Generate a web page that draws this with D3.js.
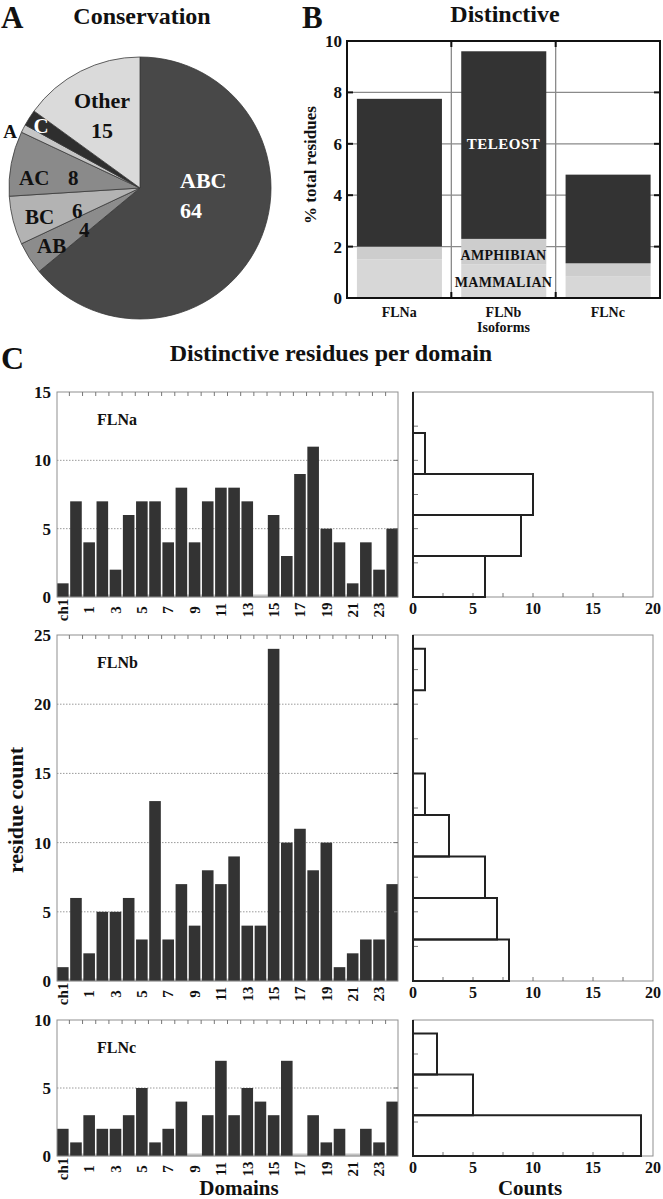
<!DOCTYPE html>
<html><head><meta charset="utf-8">
<script src="https://cdn.jsdelivr.net/npm/d3@7"></script>
<style>
body{margin:0;background:#fff}
svg{display:block}
text{font-family:"Liberation Serif","Times New Roman",serif;font-weight:bold;fill:#111}
</style>
</head><body>
<svg id="chart" width="663" height="1199"></svg>
<script>
// ---------- Panel A: Conservation (pie) ----------
const pieLabels = ["ABC", "AB", "BC", "AC", "A", "C", "Other"];
const pieValues = [64, 4, 6, 8, 1, 2, 15];
const pieColors = ["#484848", "#8c8c8c", "#b3b3b3", "#8a8a8a", "#c6c6c6", "#2e2e2e", "#dadada"];

// ---------- Panel B: Distinctive (stacked bars) ----------
const isoforms = ["FLNa", "FLNb", "FLNc"];
const mammalian = [1.5, 1.3, 0.85];
const amphibian = [0.5, 1.0, 0.5];
const teleost = [5.75, 7.3, 3.45];
const bTicks = [0, 2, 4, 6, 8, 10];

// ---------- Panel C: Distinctive residues per domain ----------
const domains = ["ch1", "ch2", "1", "2", "3", "4", "5", "6", "7", "8", "9", "10", "11", "12",
  "13", "14", "15", "16", "17", "18", "19", "20", "21", "22", "23", "24"];
const flnaCounts = [1, 7, 4, 7, 2, 6, 7, 7, 4, 8, 4, 7, 8, 8, 7, 0, 6, 3, 9, 11, 5, 4, 1, 4, 2, 5];
const flnbCounts = [1, 6, 2, 5, 5, 6, 3, 13, 3, 7, 4, 8, 7, 9, 4, 4, 24, 10, 11, 8, 10, 1, 2, 3, 3, 7];
const flncCounts = [2, 1, 3, 2, 2, 3, 5, 1, 2, 4, 0, 3, 7, 3, 5, 4, 3, 7, 0, 3, 1, 2, 0, 2, 1, 4];
// histograms of the counts (bins of 3 residues, from 0 upward)
const histBinWidth = 3;
const flnaHist = [6, 9, 10, 1, 0];
const flnbHist = [8, 7, 6, 3, 1, 0, 0, 1, 0];
const flncHist = [19, 5, 2, 0];
const flnaTicks = [0, 5, 10, 15];
const flnbTicks = [0, 5, 10, 15, 20, 25];
const flncTicks = [0, 5, 10];
const histTicks = [0, 5, 10, 15, 20];

const svg = d3.select("#chart");

function txt(g, x, y, s, size, opts = {}) {
  const t = g.append("text").attr("x", x).attr("y", y).text(s)
    .style("font-size", size + "px")
    .attr("text-anchor", opts.anchor || "start");
  if (opts.fill) t.style("fill", opts.fill);
  if (opts.dy) t.attr("dy", opts.dy);
  if (opts.ls) t.style("letter-spacing", opts.ls);
  if (opts.transform) t.attr("transform", opts.transform);
  return t;
}

// ===== Panel A =====
{
  const cx = 140, cy = 188, r = 131;
  const g = svg.append("g").attr("transform", `translate(${cx},${cy})`);
  const pie = d3.pie().sort(null).value(d => d)(pieValues);
  const arc = d3.arc().innerRadius(0).outerRadius(r);
  g.selectAll("path").data(pie).join("path")
    .attr("d", arc)
    .attr("fill", (d, i) => pieColors[i])
    .attr("stroke", "#3a3a3a").attr("stroke-width", 0.8);

  // labels (offsets relative to pie centre)
  const lab = [
    ["ABC", 40, 0, 22, "#fff", "start"], ["64", 40, 30, 22, "#fff", "start"],
    ["Other", -38, -80, 22, "#111", "middle"], ["15", -38, -50, 22, "#111", "middle"],
    ["A", -130, -50, 19, "#111", "middle"], ["C", -99, -55, 21, "#fff", "middle"],
    ["AC", -121, -3, 21, "#111", "start"], ["8", -72, -3, 21, "#111", "start"],
    ["BC", -115, 36, 21, "#111", "start"], ["6", -68, 30, 21, "#111", "start"],
    ["4", -61, 49, 21, "#111", "start"], ["AB", -103, 65, 21, "#111", "start"]
  ];
  lab.forEach(l => txt(g, l[1], l[2], l[0], l[3], { fill: l[4], anchor: l[5] }));

  txt(svg, 1, 28, "A", 31);
  txt(svg, 142, 24, "Conservation", 24, { anchor: "middle" });
}

// ===== Panel B =====
{
  const L = 347, R = 660, T = 41, B = 298;
  const x = d3.scaleBand().domain(isoforms).range([L, R]);
  const y = d3.scaleLinear().domain([0, 10]).range([B, T]);
  const g = svg.append("g");
  const rows = isoforms.map((c, i) => ({ iso: c, mammalian: mammalian[i], amphibian: amphibian[i], teleost: teleost[i] }));
  const stack = d3.stack().keys(["mammalian", "amphibian", "teleost"])(rows);
  const sCol = { mammalian: "#d7d7d7", amphibian: "#cdcdcd", teleost: "#333333" };

  // gridlines
  g.selectAll("line.gh").data(bTicks.filter(t => t > 0 && t < 10)).join("line")
    .attr("x1", L).attr("x2", R).attr("y1", d => y(d)).attr("y2", d => y(d))
    .attr("stroke", "#8a8a8a").attr("stroke-width", 1.3);
  g.selectAll("line.gv").data(isoforms.slice(1)).join("line")
    .attr("x1", d => x(d)).attr("x2", d => x(d)).attr("y1", T).attr("y2", B)
    .attr("stroke", "#8a8a8a").attr("stroke-width", 1.3);

  const bw = x.bandwidth();
  stack.forEach(s => {
    g.append("g").selectAll("rect").data(s).join("rect")
      .attr("x", d => x(d.data.iso) + bw * 0.095)
      .attr("width", bw * 0.815)
      .attr("y", d => y(d[1]))
      .attr("height", d => y(d[0]) - y(d[1]))
      .attr("fill", sCol[s.key]);
  });

  // frame + ticks
  g.append("rect").attr("x", L).attr("y", T).attr("width", R - L).attr("height", B - T)
    .attr("fill", "none").attr("stroke", "#111").attr("stroke-width", 2);
  bTicks.filter(t => t > 0 && t < 10).forEach(t => {
    g.append("line").attr("x1", L).attr("x2", L + 6).attr("y1", y(t)).attr("y2", y(t)).attr("stroke", "#111").attr("stroke-width", 2);
    g.append("line").attr("x1", R - 6).attr("x2", R).attr("y1", y(t)).attr("y2", y(t)).attr("stroke", "#111").attr("stroke-width", 2);
  });
  isoforms.slice(1).forEach(c => {
    g.append("line").attr("x1", x(c)).attr("x2", x(c)).attr("y1", T).attr("y2", T + 6).attr("stroke", "#111").attr("stroke-width", 2);
    g.append("line").attr("x1", x(c)).attr("x2", x(c)).attr("y1", B - 6).attr("y2", B).attr("stroke", "#111").attr("stroke-width", 2);
  });

  bTicks.forEach(t => txt(g, L - 5, y(t), String(t), 17, { anchor: "end", dy: "0.35em" }));
  isoforms.forEach(c => txt(g, x(c) + bw / 2, 317, c, 14, { anchor: "middle" }));
  txt(g, x("FLNb") + bw / 2, 332, "Isoforms", 14, { anchor: "middle" });
  txt(g, 0, 0, "% total residues", 17, { anchor: "middle", dy: "0.35em", transform: "translate(310,165) rotate(-90)" });

  const cb = x("FLNb") + bw / 2;
  txt(g, cb, y(6), "TELEOST", 15, { anchor: "middle", dy: "0.35em", fill: "#fff", ls: "0.5px" });
  txt(g, cb, y(1.65), "AMPHIBIAN", 14, { anchor: "middle", dy: "0.35em", ls: "0.3px" });
  txt(g, cb, y(0.6), "MAMMALIAN", 14, { anchor: "middle", dy: "0.35em", ls: "0.3px" });

  txt(svg, 302, 28, "B", 31);
  txt(svg, 505, 22, "Distinctive", 24, { anchor: "middle" });
}

// ===== Panel C =====
txt(svg, 1, 369, "C", 32);
txt(svg, 331, 361, "Distinctive residues per domain", 24, { anchor: "middle" });

const xC = d3.scaleBand().domain(domains).range([57, 398]).paddingInner(0.12).paddingOuter(0);
const xH = d3.scaleLinear().domain([0, 20]).range([413, 653]);

function panelC(vals, hist, ticks, name, T, B) {
  const max = ticks[ticks.length - 1];
  const y = d3.scaleLinear().domain([0, max]).range([B, T]);
  const g = svg.append("g");
  const L = 57, R = 398;
  // gridlines
  g.selectAll("line.grid").data(ticks.filter(t => t > 0 && t < max)).join("line")
    .attr("x1", L).attr("x2", R).attr("y1", d => y(d)).attr("y2", d => y(d))
    .attr("stroke", "#9a9a9a").attr("stroke-width", 1).attr("stroke-dasharray", "1.5,1.5");
  // baseline strip
  g.append("line").attr("x1", L).attr("x2", R).attr("y1", B - 1).attr("y2", B - 1)
    .attr("stroke", "#c4c4c4").attr("stroke-width", 3);
  // bars
  g.selectAll("rect.bar").data(vals).join("rect")
    .attr("x", (d, i) => xC(domains[i]))
    .attr("width", xC.bandwidth())
    .attr("y", d => y(d))
    .attr("height", d => B - y(d))
    .attr("fill", "#333");
  // frame
  g.append("rect").attr("x", L).attr("y", T).attr("width", R - L).attr("height", B - T)
    .attr("fill", "none").attr("stroke", "#8f8f8f").attr("stroke-width", 1);
  // top ticks at band boundaries
  const step = xC.step();
  domains.slice(1).forEach(d => {
    const xx = xC(d) - (step - xC.bandwidth()) / 2;
    g.append("line").attr("x1", xx).attr("x2", xx).attr("y1", T).attr("y2", T + 4).attr("stroke", "#777").attr("stroke-width", 1);
  });
  ticks.filter(t => t > 0 && t < max).forEach(t => {
    g.append("line").attr("x1", R - 4).attr("x2", R).attr("y1", y(t)).attr("y2", y(t)).attr("stroke", "#777");
  });
  ticks.forEach(t => txt(g, 51, y(t), String(t), 17, { anchor: "end", dy: "0.35em" }));
  domains.forEach((d, i) => {
    if (i % 2 === 0) {
      const cx = xC(d) + xC.bandwidth() / 2;
      txt(g, 0, 0, d, 15, { anchor: "middle", dy: "0.35em", transform: `translate(${cx},${B + 13}) rotate(-90)` });
    }
  });
  txt(g, 97, T + 33, name, 16);

  // histogram panel
  const h = svg.append("g");
  h.append("rect").attr("x", xH(0)).attr("y", T).attr("width", xH(20) - xH(0)).attr("height", B - T)
    .attr("fill", "none").attr("stroke", "#8f8f8f").attr("stroke-width", 1);
  d3.range(2.5, 20, 2.5).forEach(v => {
    h.append("line").attr("x1", xH(v)).attr("x2", xH(v)).attr("y1", B).attr("y2", B - 4).attr("stroke", "#777");
  });
  d3.range(2.5, max, 2.5).forEach(v => {
    h.append("line").attr("x1", xH(0)).attr("x2", xH(0) + 5).attr("y1", y(v)).attr("y2", y(v)).attr("stroke", "#777");
  });
  hist.forEach((c, i) => {
    const s = i * histBinWidth, e = Math.min(s + histBinWidth, max);
    const p = `M${xH(0)},${y(s)}H${xH(c)}V${y(e)}H${xH(0)}Z`;
    h.append("path").attr("d", p).attr("fill", "none").attr("stroke", "#222").attr("stroke-width", 2);
  });
  histTicks.forEach(t => txt(h, xH(t), B + 17, String(t), 16, { anchor: "middle" }));
}

panelC(flnaCounts, flnaHist, flnaTicks, "FLNa", 392, 597);
panelC(flnbCounts, flnbHist, flnbTicks, "FLNb", 635, 981);
panelC(flncCounts, flncHist, flncTicks, "FLNc", 1020, 1156);

txt(svg, 0, 0, "residue count", 22, { anchor: "middle", dy: "0.35em", transform: "translate(15,810) rotate(-90)" });
txt(svg, 239, 1195, "Domains", 21, { anchor: "middle" });
txt(svg, 530, 1195, "Counts", 21, { anchor: "middle" });
</script>
</body></html>
